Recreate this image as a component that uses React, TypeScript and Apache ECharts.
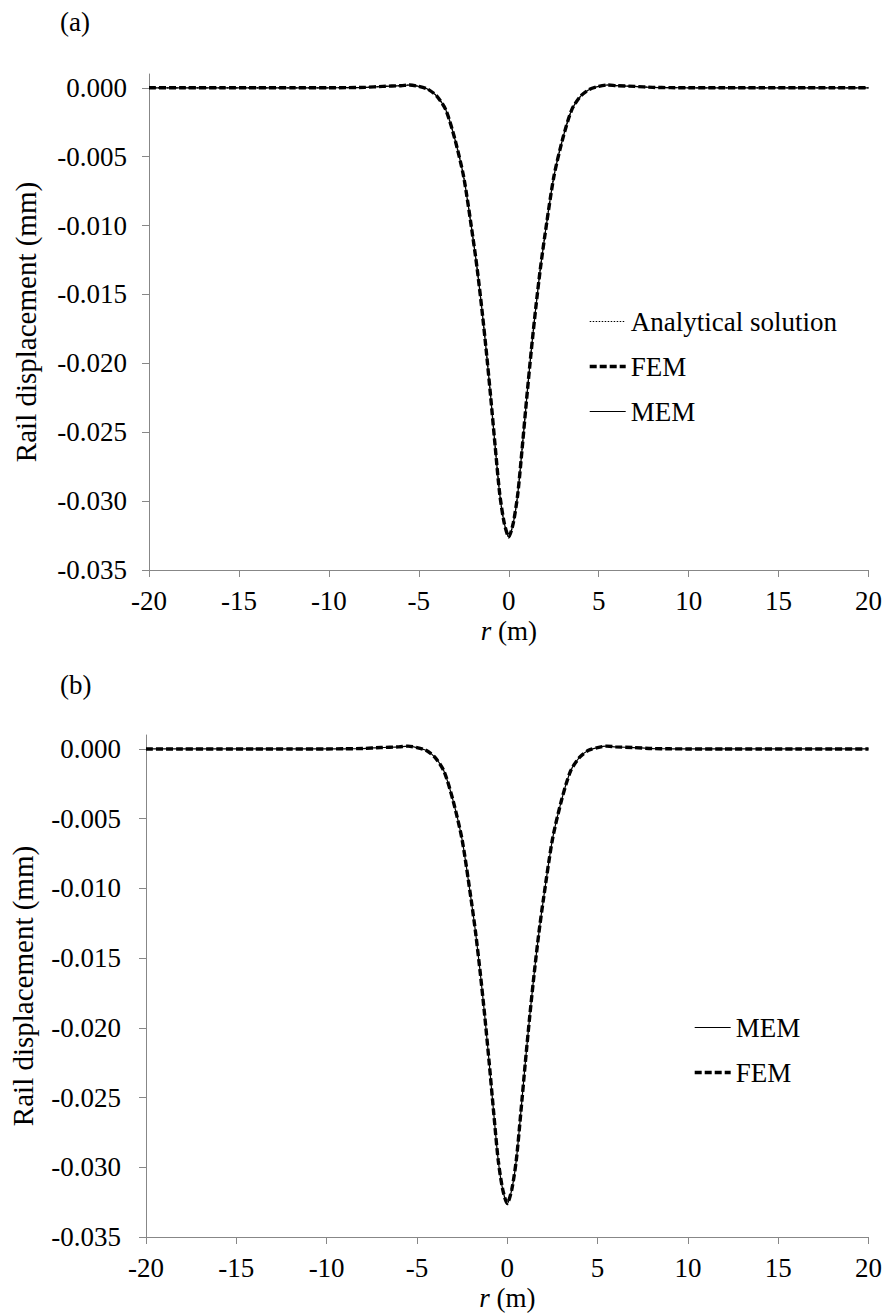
import React, { useEffect, useRef } from "react";
import * as echarts from "echarts";

// Distance along the rail (m)
const r = [
  -20, -18, -16, -14, -12, -10, -9, -8, -7, -6, -5.5, -5, -4.5, -4, -3.5, -3,
  -2.5, -2, -1.75, -1.5, -1.25, -1, -0.75, -0.5, -0.25, 0, 0.25, 0.5, 0.75, 1,
  1.25, 1.5, 1.75, 2, 2.5, 3, 3.5, 4, 4.5, 5, 5.5, 6, 7, 8, 9, 10, 12, 14, 16,
  18, 20,
];

// Rail displacement (mm), panel (a)
const analyticalA = [
  0, 0, 0, 0, 0, 0, 0.00001, 0.00003, 0.0001, 0.00015, 0.0002, 0.0001, -0.0001,
  -0.0006, -0.0016, -0.0037, -0.0065, -0.0108, -0.0132, -0.016, -0.0191,
  -0.0225, -0.0261, -0.0295, -0.0316, -0.0326, -0.0316, -0.0295, -0.0261,
  -0.0225, -0.0191, -0.016, -0.0132, -0.0108, -0.0065, -0.0037, -0.0016,
  -0.0006, -0.0001, 0.0001, 0.0002, 0.00015, 0.0001, 0.00003, 0.00001, 0, 0, 0,
  0, 0, 0,
];
const femA = [
  0, 0, 0, 0, 0, 0, 0.00001, 0.00003, 0.0001, 0.00015, 0.0002, 0.0001, -0.0001,
  -0.0006, -0.0016, -0.0037, -0.0065, -0.0108, -0.0132, -0.016, -0.0191,
  -0.0225, -0.0261, -0.0295, -0.0316, -0.0326, -0.0316, -0.0295, -0.0261,
  -0.0225, -0.0191, -0.016, -0.0132, -0.0108, -0.0065, -0.0037, -0.0016,
  -0.0006, -0.0001, 0.0001, 0.0002, 0.00015, 0.0001, 0.00003, 0.00001, 0, 0, 0,
  0, 0, 0,
];
const memA = [
  0, 0, 0, 0, 0, 0, 0.00001, 0.00003, 0.0001, 0.00015, 0.0002, 0.0001, -0.0001,
  -0.0006, -0.0016, -0.0037, -0.0065, -0.0108, -0.0132, -0.016, -0.0191,
  -0.0225, -0.0261, -0.0295, -0.0316, -0.0326, -0.0316, -0.0295, -0.0261,
  -0.0225, -0.0191, -0.016, -0.0132, -0.0108, -0.0065, -0.0037, -0.0016,
  -0.0006, -0.0001, 0.0001, 0.0002, 0.00015, 0.0001, 0.00003, 0.00001, 0, 0, 0,
  0, 0, 0,
];

// Rail displacement (mm), panel (b)
const memB = [
  0, 0, 0, 0, 0, 0, 0.00001, 0.00003, 0.0001, 0.00015, 0.0002, 0.0001, -0.0001,
  -0.0006, -0.0016, -0.0037, -0.0065, -0.0108, -0.0132, -0.016, -0.0191,
  -0.0225, -0.0261, -0.0295, -0.0316, -0.0326, -0.0316, -0.0295, -0.0261,
  -0.0225, -0.0191, -0.016, -0.0132, -0.0108, -0.0065, -0.0037, -0.0016,
  -0.0006, -0.0001, 0.0001, 0.0002, 0.00015, 0.0001, 0.00003, 0.00001, 0, 0, 0,
  0, 0, 0,
];
const femB = [
  0, 0, 0, 0, 0, 0, 0.00001, 0.00003, 0.0001, 0.00015, 0.0002, 0.0001, -0.0001,
  -0.0006, -0.0016, -0.0037, -0.0065, -0.0108, -0.0132, -0.016, -0.0191,
  -0.0225, -0.0261, -0.0295, -0.0316, -0.0326, -0.0316, -0.0295, -0.0261,
  -0.0225, -0.0191, -0.016, -0.0132, -0.0108, -0.0065, -0.0037, -0.0016,
  -0.0006, -0.0001, 0.0001, 0.0002, 0.00015, 0.0001, 0.00003, 0.00001, 0, 0, 0,
  0, 0, 0,
];

const yTicks = [0, -0.005, -0.01, -0.015, -0.02, -0.025, -0.03, -0.035];
const xTicks = [-20, -15, -10, -5, 0, 5, 10, 15, 20];
const panelLabels = ["(a)", "(b)"];

const FONT = "Liberation Serif";
const AXIS_GREY = "#878787";

const pairs = (ys: number[]) => r.map((x, i) => [x, ys[i]]);

const serif = (size: number, extra: Record<string, unknown> = {}) => ({
  fontFamily: FONT,
  fontSize: size,
  color: "#000",
  ...extra,
});

const makeXAxis = (gridIndex: number) => ({
  type: "value",
  gridIndex,
  min: -20,
  max: 20,
  interval: 5,
  name: "{i|r}{n| (m)}",
  nameLocation: "middle",
  nameGap: 47,
  nameTextStyle: {
    ...serif(27),
    rich: { i: serif(27, { fontStyle: "italic" }), n: serif(27) },
  },
  axisLine: { onZero: false, lineStyle: { color: AXIS_GREY, width: 1 } },
  axisTick: { show: true, length: 7, lineStyle: { color: AXIS_GREY } },
  axisLabel: {
    margin: 17,
    ...serif(27),
    customValues: xTicks,
  },
  splitLine: { show: false },
});

const makeYAxis = (gridIndex: number, labelMargin: number) => ({
  type: "value",
  gridIndex,
  min: -0.035,
  max: 0.001,
  interval: 0.005,
  name: "Rail displacement (mm)",
  nameLocation: "middle",
  nameRotate: 90,
  nameGap: 109,
  nameTextStyle: serif(29),
  axisLine: { onZero: false, lineStyle: { color: AXIS_GREY, width: 1 } },
  axisTick: {
    show: true,
    length: 7,
    lineStyle: { color: AXIS_GREY },
    customValues: yTicks,
  },
  axisLabel: {
    margin: labelMargin,
    ...serif(27),
    customValues: yTicks,
    formatter: (v: number) => v.toFixed(3),
  },
  splitLine: { show: false },
});

const lineSeries = (
  name: string,
  idx: number,
  ys: number[],
  lineStyle: Record<string, unknown>,
) => ({
  name,
  type: "line",
  xAxisIndex: idx,
  yAxisIndex: idx,
  data: pairs(ys),
  smooth: 0.25,
  showSymbol: false,
  symbol: "none",
  color: "#000",
  lineStyle: { color: "#000", ...lineStyle },
});

const dottedStyle = { width: 1.2, type: [1.5, 1.5] };
const dashedStyle = { width: 3.4, type: [7, 3] };
const solidStyle = { width: 1.2, type: "solid" };

// Legend swatches use the same strokes as the curves
const legendLine = {
  dotted: { color: "#000", width: 1.2, type: [1.5, 1.5] },
  dashed: { color: "#000", width: 3.4, type: [7, 3] },
  solid: { color: "#000", width: 1.2, type: "solid" },
};

// Every chart text in the Times-like serif face
const textCss = `.rail-chart text { font-family: "Liberation Serif", "Times New Roman", serif !important; }`;

export default function App() {
  const ref = useRef<HTMLDivElement>(null);

  useEffect(() => {
    if (!ref.current) return;
    const chart = echarts.init(ref.current, undefined, { renderer: "svg" });
    const legendBase = {
      orient: "vertical",
      itemWidth: 36,
      itemHeight: 14,
      itemGap: 18,
      textStyle: serif(27),
      selectedMode: false,
      itemStyle: { opacity: 0 },
    };
    chart.setOption({
      animation: false,
      backgroundColor: "#fff",
      textStyle: { fontFamily: FONT, color: "#000" },
      grid: [
        { left: 149, right: 16, top: 74, height: 496 },
        { left: 142, right: 16, top: 735, height: 502 },
      ],
      xAxis: [makeXAxis(0), makeXAxis(1)],
      yAxis: [makeYAxis(0, 22), makeYAxis(1, 25)],
      legend: [
        {
          ...legendBase,
          data: [
            { name: "Analytical solution", lineStyle: legendLine.dotted },
            { name: "FEM", lineStyle: legendLine.dashed },
            { name: "MEM", lineStyle: legendLine.solid },
          ],
          left: 583,
          top: 303,
        },
        {
          ...legendBase,
          data: [
            { name: "MEM ", lineStyle: legendLine.solid },
            { name: "FEM ", lineStyle: legendLine.dashed },
          ],
          left: 688,
          top: 1009,
        },
      ],
      graphic: [
        {
          type: "text",
          left: 60,
          top: 8,
          style: { text: panelLabels[0], font: `27px ${FONT}`, fill: "#000" },
        },
        {
          type: "text",
          left: 60,
          top: 671,
          style: { text: panelLabels[1], font: `27px ${FONT}`, fill: "#000" },
        },
      ],
      series: [
        lineSeries("Analytical solution", 0, analyticalA, dottedStyle),
        lineSeries("FEM", 0, femA, dashedStyle),
        lineSeries("MEM", 0, memA, solidStyle),
        lineSeries("FEM ", 1, femB, dashedStyle),
        lineSeries("MEM ", 1, memB, solidStyle),
      ],
    });
    return () => chart.dispose();
  }, []);

  return (
    <>
      <style>{textCss}</style>
      <div
        ref={ref}
        className="rail-chart"
        style={{ position: "absolute", left: 0, top: 0, width: 885, height: 1313 }}
      />
    </>
  );
}
